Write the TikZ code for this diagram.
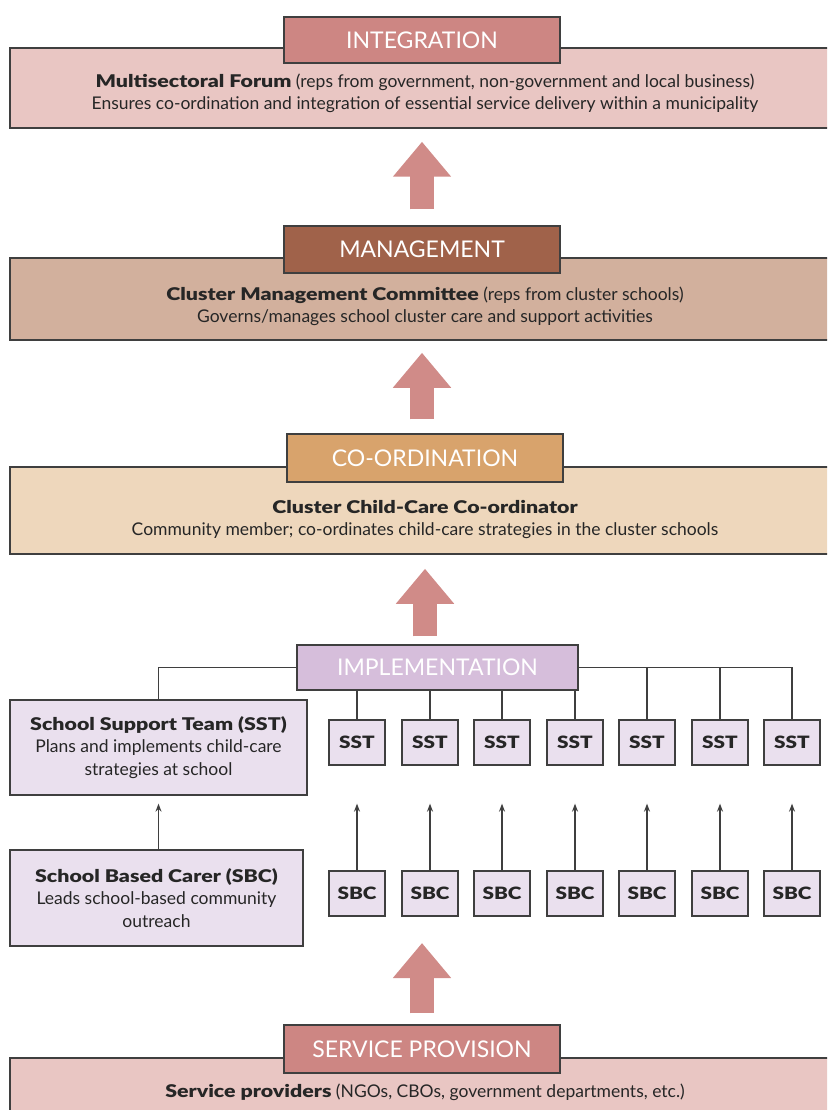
\documentclass[tikz,border=0pt]{standalone}
\usepackage{fontspec}
\setmainfont{Lato}[BoldFont={Lato Black},BoldFeatures={FakeStretch=1.22}]
\usepackage{xcolor}
\usetikzlibrary{arrows.meta,positioning,calc}

\definecolor{roseHead}{HTML}{CD8683}
\definecolor{roseBand}{HTML}{E9C6C3}
\definecolor{brownHead}{HTML}{A0624A}
\definecolor{brownBand}{HTML}{D2B09D}
\definecolor{tanHead}{HTML}{D8A36C}
\definecolor{tanBand}{HTML}{EED7BC}
\definecolor{lilacHead}{HTML}{D6BEDB}
\definecolor{lilacBox}{HTML}{EAE0EE}
\definecolor{arrowRose}{HTML}{D08B88}
\definecolor{lineGray}{HTML}{3F3F3F}

\tikzset{
  head/.style={rectangle,draw=lineGray,line width=1.5pt,minimum width=276pt,minimum height=46pt,text=white,font=\fontsize{23}{26}\selectfont},
  band/.style={rectangle,draw=lineGray,line width=1.5pt,minimum width=830pt},
  bandtext/.style={align=center,text=black!85,font=\fontsize{17.5}{22}\selectfont},
  bigbox/.style={rectangle,draw=lineGray,line width=1.3pt,fill=lilacBox,minimum width=297pt,minimum height=95pt,align=center,text=black!85,font=\fontsize{17.5}{22.5}\selectfont},
  smallbox/.style={rectangle,draw=lineGray,line width=1.3pt,fill=lilacBox,minimum width=56pt,minimum height=45pt,text=black!85,font=\bfseries\fontsize{17}{20}\selectfont},
  bigarr/.style={draw=arrowRose,line width=24pt,-{Triangle[length=35pt,width=56pt]}},
  tree/.style={draw=lineGray,line width=1.3pt},
  uparr/.style={draw=lineGray,line width=1.3pt,-{Stealth[length=8pt,width=6pt]}}
}

\begin{document}
\begin{tikzpicture}[x=1pt,y=-1pt]
\useasboundingbox (0,0) rectangle (827,1110);
\fill[white] (0,0) rectangle (827,1110);
\clip (0,0) rectangle (827,1110);

% Integration
\node[band,fill=roseBand,minimum height=80pt] (intBand) at (425,88) {};
\node[head,fill=roseHead] (intHead) at (422,40) {INTEGRATION};
\node[bandtext] (intText) at (425,93.5) {\textbf{Multisectoral Forum} (reps from government, non-government and local business)\\Ensures co-ordination and integration of essential service delivery within a municipality};

% Management
\node[band,fill=brownBand,minimum height=82pt] (mgBand) at (425,299) {};
\node[head,fill=brownHead,minimum height=47pt] (mgHead) at (422,249.5) {MANAGEMENT};
\node[bandtext] (mgText) at (425,306.5) {\textbf{Cluster Management Committee} (reps from cluster schools)\\Governs/manages school cluster care and support activities};

% Co-ordination
\node[band,fill=tanBand,minimum height=87pt] (coBand) at (425,510.5) {};
\node[head,fill=tanHead,minimum height=48pt] (coHead) at (425,458) {CO-ORDINATION};
\node[bandtext] (coText) at (425,519.5) {\textbf{Cluster Child-Care Co-ordinator}\\Community member; co-ordinates child-care strategies in the cluster schools};

% Service provision
\node[band,fill=roseBand,minimum height=74pt] (spBand) at (425,1095) {};
\node[head,fill=roseHead,minimum height=48pt] (spHead) at (422,1049) {SERVICE PROVISION};
\node[bandtext] (spText) at (425,1092) {\textbf{Service providers} (NGOs, CBOs, government departments, etc.)};

% Implementation
\node[head,fill=lilacHead,minimum width=281pt,minimum height=45pt] (impHead) at (437.5,667.5) {IMPLEMENTATION};
\node[bigbox] (sstBig) at (158.5,747.5) {\textbf{School Support Team (SST)}\\Plans and implements child-care\\strategies at school};
\node[bigbox,minimum width=293pt,minimum height=96pt] (sbcBig) at (156.5,898) {\textbf{School Based Carer (SBC)}\\Leads school-based community\\outreach};

\node[smallbox] (sst1) at (357,742.5) {SST};
\node[smallbox] (sst2) at (430,742.5) {SST};
\node[smallbox] (sst3) at (502,742.5) {SST};
\node[smallbox] (sst4) at (575,742.5) {SST};
\node[smallbox] (sst5) at (647,742.5) {SST};
\node[smallbox] (sst6) at (720,742.5) {SST};
\node[smallbox] (sst7) at (792,742.5) {SST};

\node[smallbox] (sbc1) at (357,893.5) {SBC};
\node[smallbox] (sbc2) at (430,893.5) {SBC};
\node[smallbox] (sbc3) at (502,893.5) {SBC};
\node[smallbox] (sbc4) at (575,893.5) {SBC};
\node[smallbox] (sbc5) at (647,893.5) {SBC};
\node[smallbox] (sbc6) at (720,893.5) {SBC};
\node[smallbox] (sbc7) at (792,893.5) {SBC};

\coordinate (spTip) at (422,943);

% tree lines
\draw[tree] (impHead.west) -| (sstBig.north);
\draw[tree] (impHead.east) -| (sst7.north);
\draw[tree] (sst1.north) -- (sst1.north |- impHead.south);
\draw[tree] (sst2.north) -- (sst2.north |- impHead.south);
\draw[tree] (sst3.north) -- (sst3.north |- impHead.south);
\draw[tree] (sst4.north) -- (sst4.north |- impHead.south);
\draw[tree] (sst5.north) -- (sst5.north |- impHead.east);
\draw[tree] (sst6.north) -- (sst6.north |- impHead.east);

% SBC -> SST
\draw[uparr] (sbcBig.north -| sstBig.south) -- ([yshift=-8pt]sstBig.south);
\draw[uparr] (sbc1.north) -- ([yshift=-38pt]sst1.south);
\draw[uparr] (sbc2.north) -- ([yshift=-38pt]sst2.south);
\draw[uparr] (sbc3.north) -- ([yshift=-38pt]sst3.south);
\draw[uparr] (sbc4.north) -- ([yshift=-38pt]sst4.south);
\draw[uparr] (sbc5.north) -- ([yshift=-38pt]sst5.south);
\draw[uparr] (sbc6.north) -- ([yshift=-38pt]sst6.south);
\draw[uparr] (sbc7.north) -- ([yshift=-38pt]sst7.south);

% big arrows
\draw[bigarr] ([yshift=16pt]mgHead.north) -- ([yshift=-13pt]mgHead.north |- intBand.south);
\draw[bigarr] ([yshift=14pt]coHead.north -| mgHead.north) -- ([yshift=-12pt]mgBand.south -| mgHead.north);
\draw[bigarr] ([yshift=8pt]impHead.north -| coHead.south) -- ([yshift=-14pt]coBand.south -| coHead.south);
\draw[bigarr] ([yshift=11pt]spHead.north) -- (spTip);
\end{tikzpicture}
\end{document}
